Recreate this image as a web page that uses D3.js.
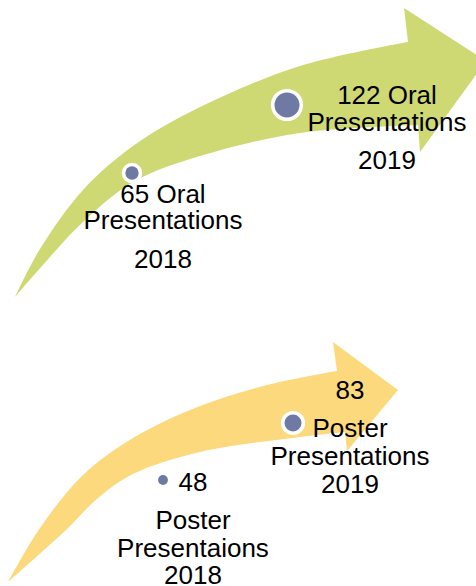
<!DOCTYPE html>
<html>
<head>
<meta charset="utf-8">
<script src="https://cdn.jsdelivr.net/npm/d3@7/dist/d3.min.js"></script>
<style>
  html, body { margin: 0; padding: 0; background: #fff; }
  svg { display: block; }
  text { font-family: "Liberation Sans", Arial, sans-serif; fill: #000; }
</style>
</head>
<body>
<svg id="chart" width="476" height="586"></svg>
<script>
// ---- Data ----
const categories = ["Oral Presentations", "Poster Presentations"];
const years = ["2018", "2019"];
const oralValues = [65, 122];
const posterValues = [48, 83];
const oralLabels = [
  ["65 Oral", "Presentations", "2018"],
  ["122 Oral", "Presentations", "2019"]
];
const posterLabels = [
  ["48"],
  ["Poster", "Presentaions", "2018"],
  ["83", "Poster", "Presentations", "2019"]
];

// ---- Layout (decorative arrow geometry) ----
const svg = d3.select("#chart");
const edge = d3.line().curve(d3.curveCatmullRom.alpha(0.5));

function arrowPath(g) {
  const up = edge(g.upper);
  const low = edge(g.lower).replace(/^M/, "L");
  const head = g.head.map(p => "L" + p[0] + "," + p[1]).join("");
  return up + head + low + "Z";
}

const arrows = [
  {
    color: "#cfd974",
    upper: [[15,297],[40,249],[83,190],[133,146],[200,107],[300,66],[408,42]],
    head: [[404,8],[486,61],[420,152],[418,125]],
    lower: [[418,125],[300,133],[200,156],[133,182],[83,222],[50,257],[15,297]]
  },
  {
    color: "#fbd97c",
    upper: [[8,582],[40,528],[83,475],[133,438],[200,406],[267,385],[337,371]],
    head: [[333,342],[398,390],[347,451],[345,432]],
    lower: [[345,432],[300,437],[200,452],[133,474],[98,498],[67,529],[35,558],[8,582]]
  }
];

svg.selectAll("path.arrow")
  .data(arrows)
  .enter().append("path")
  .attr("class", "arrow")
  .attr("d", d => arrowPath(d))
  .attr("fill", d => d.color);

// ---- Circles sized by value ----
const r = d3.scaleLinear().domain([0, 122]).range([0, 12.5]);
const ring = 3.6;

const points = [
  { v: oralValues[0], x: 132, y: 173 },
  { v: oralValues[1], x: 287, y: 105 },
  { v: posterValues[0], x: 163, y: 480 },
  { v: posterValues[1], x: 293, y: 423 }
];

svg.selectAll("circle.ring")
  .data(points)
  .enter().append("circle")
  .attr("class", "ring")
  .attr("cx", d => d.x)
  .attr("cy", d => d.y)
  .attr("r", d => r(d.v) + ring)
  .attr("fill", "#fff");

svg.selectAll("circle.pt")
  .data(points)
  .enter().append("circle")
  .attr("class", "pt")
  .attr("cx", d => d.x)
  .attr("cy", d => d.y)
  .attr("r", d => r(d.v))
  .attr("fill", "#6e7aa3");

// ---- Labels ----
const labelBlocks = [
  { lines: oralLabels[0], x: 163, ys: [203, 229, 268] },
  { lines: oralLabels[1], x: 387, ys: [104, 131, 169] },
  { lines: posterLabels[0], x: 193, ys: [491] },
  { lines: posterLabels[1], x: 193, ys: [529, 557, 584] },
  { lines: posterLabels[2], x: 350, ys: [399, 437, 465, 493] }
];

labelBlocks.forEach(b => {
  svg.selectAll(null)
    .data(b.lines)
    .enter().append("text")
    .attr("x", b.x)
    .attr("y", (d, i) => b.ys[i])
    .attr("text-anchor", "middle")
    .attr("font-size", 26)
    .text(d => d);
});
</script>
</body>
</html>
